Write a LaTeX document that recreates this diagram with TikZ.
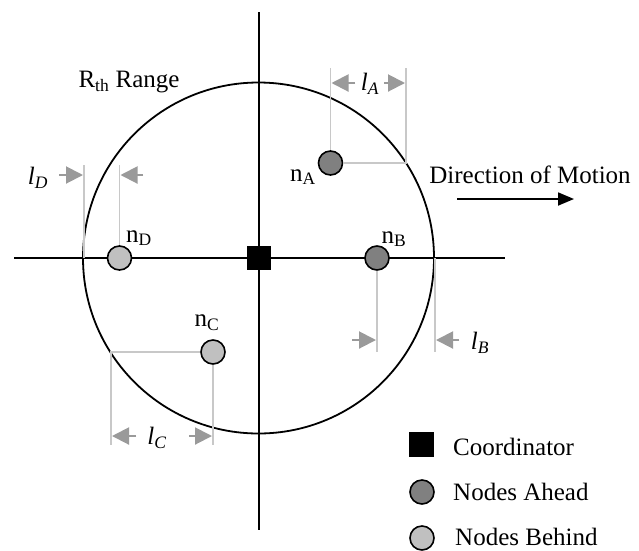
\documentclass[tikz,border=0pt]{standalone}
\usepackage{fontspec}
\setmainfont{Liberation Serif}
\usetikzlibrary{arrows.meta}
\definecolor{dimline}{HTML}{C8C8C8}
\definecolor{dimarrow}{HTML}{9A9A9A}
\definecolor{aheadfill}{HTML}{808080}
\definecolor{behindfill}{HTML}{C0C0C0}
\tikzset{gtip/.tip={Triangle[length=17pt,width=17pt]}}
\begin{document}
\begin{tikzpicture}[x=1pt,y=-1pt,
  every node/.style={font=\fontsize{25}{29}\selectfont, inner sep=0pt},
  blk/.style={line width=1.8pt},
  dimln/.style={line width=1.6pt, draw=dimline},
  dimarr/.style={line width=2pt, draw=dimarrow, fill=dimarrow},
  ahead/.style={circle, draw, line width=1.6pt, fill=aheadfill, minimum size=24pt},
  behind/.style={circle, draw, line width=1.6pt, fill=behindfill, minimum size=24pt},
  coordbox/.style={rectangle, fill=black, minimum size=24pt},
]
\useasboundingbox (0,0) rectangle (639,550);
% axes
\coordinate (vt) at (259,12);
\coordinate (vb) at (259,530);
\coordinate (hl) at (14,258);
\coordinate (hr) at (505,258);
\draw[blk] (vt) -- (vb);
\draw[blk] (hl) -- (hr);
% range circle
\node[circle, draw, line width=1.8pt, minimum size=351pt] (range) at (258.5,258) {};
\node (rth) at (129,82) {R\textsubscript{th} Range};
% coordinator
\node[coordbox] (co) at (259,258) {};
% nodes
\node[ahead] (nA) at (330.5,163) {};
\node[ahead] (nB) at (377,258) {};
\node[behind] (nC) at (213,352) {};
\node[behind] (nD) at (119.5,258) {};
\node (nAl) at (303,177) {n\textsubscript{A}};
\node (nBl) at (394,239) {n\textsubscript{B}};
\node (nCl) at (207,323) {n\textsubscript{C}};
\node (nDl) at (139,238) {n\textsubscript{D}};
% dimension A
\coordinate (a1) at (330.5,68);
\coordinate (a2) at (406,68);
\coordinate (a3) at (406,163);
\draw[dimln] (nA) -- (a1);
\draw[dimln] (nA) -- (a3) -- (a2);
\coordinate (aL0) at (355,83);
\coordinate (aL1) at (331.5,83);
\coordinate (aR0) at (384,83);
\coordinate (aR1) at (405,83);
\draw[dimarr, -gtip] (aL0) -- (aL1);
\draw[dimarr, -gtip] (aR0) -- (aR1);
\node (lA) at (370,84) {\textit{l}\textsubscript{\textit{A}}};
% dimension D
\coordinate (d1) at (84,165);
\coordinate (d2) at (84,258);
\coordinate (d3) at (119.5,165);
\draw[dimln] (d1) -- (d2);
\draw[dimln] (nD) -- (d3);
\coordinate (dL0) at (59,175);
\coordinate (dL1) at (83,175);
\coordinate (dR0) at (143,175);
\coordinate (dR1) at (120.5,175);
\draw[dimarr, -gtip] (dL0) -- (dL1);
\draw[dimarr, -gtip] (dR0) -- (dR1);
\node (lD) at (38,178) {\textit{l}\textsubscript{\textit{D}}};
% dimension B
\coordinate (b1) at (377,352);
\coordinate (b2) at (435,258);
\coordinate (b3) at (435,352);
\draw[dimln] (nB) -- (b1);
\draw[dimln] (b2) -- (b3);
\coordinate (bL0) at (352,340);
\coordinate (bL1) at (376,340);
\coordinate (bR0) at (459,340);
\coordinate (bR1) at (436,340);
\draw[dimarr, -gtip] (bL0) -- (bL1);
\draw[dimarr, -gtip] (bR0) -- (bR1);
\node (lB) at (480,343) {\textit{l}\textsubscript{\textit{B}}};
% dimension C
\coordinate (c1) at (111,352);
\coordinate (c2) at (111,445);
\coordinate (c3) at (213,445);
\draw[dimln] (nC) -- (c1) -- (c2);
\draw[dimln] (nC) -- (c3);
\coordinate (cL0) at (136,436);
\coordinate (cL1) at (112,436);
\coordinate (cR0) at (189,436);
\coordinate (cR1) at (212,436);
\draw[dimarr, -gtip] (cL0) -- (cL1);
\draw[dimarr, -gtip] (cR0) -- (cR1);
\node (lC) at (157,438) {\textit{l}\textsubscript{\textit{C}}};
% direction of motion
\node (dir) at (530,175) {Direction of Motion};
\coordinate (m0) at (457,199);
\coordinate (m1) at (574,199);
\draw[line width=1.8pt, -{Triangle[length=16pt,width=13pt]}] (m0) -- (m1);
% legend
\node[coordbox, minimum size=25pt] (lg1) at (421.5,444.5) {};
\node[ahead] (lg2) at (422,492) {};
\node[behind] (lg3) at (422,538) {};
\node[anchor=west] (lt1) at (453,447) {Coordinator};
\node[anchor=west] (lt2) at (453,492) {Nodes Ahead};
\node[anchor=west] (lt3) at (455,537) {Nodes Behind};
\end{tikzpicture}
\end{document}
